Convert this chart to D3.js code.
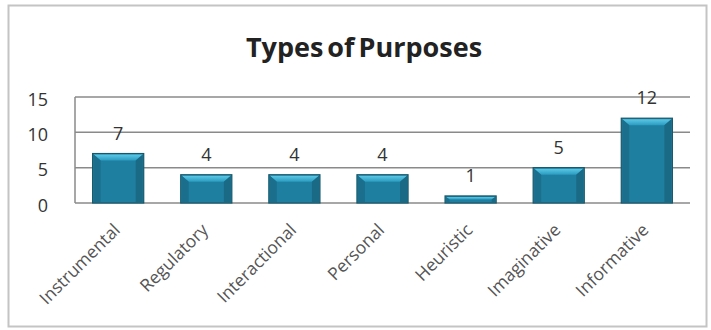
<!DOCTYPE html>
<html>
<head>
<meta charset="utf-8">
<script src="https://cdn.jsdelivr.net/npm/d3@7"></script>
<style>
  body { margin: 0; background: #fff; }
  svg { display: block; font-family: "Open Sans", "DejaVu Sans", sans-serif; }
</style>
</head>
<body>
<div id="chart"></div>
<script>
var categories = ["Instrumental", "Regulatory", "Interactional", "Personal", "Heuristic", "Imaginative", "Informative"];
var values = [7, 4, 4, 4, 1, 5, 12];
var yTicks = [0, 5, 10, 15];

var W = 711, H = 330;
var margin = { top: 97, right: 21, bottom: 127, left: 75 };
var width = W - margin.left - margin.right,
    height = H - margin.top - margin.bottom;

var svg = d3.select("#chart").append("svg")
    .attr("width", W)
    .attr("height", H);

// outer frame
svg.append("rect")
    .attr("x", 8.5).attr("y", 5.5)
    .attr("width", 698).attr("height", 321)
    .attr("fill", "#fff")
    .attr("stroke", "#c4c4c4")
    .attr("stroke-width", 2);

svg.append("text")
    .attr("x", 364).attr("y", 57)
    .attr("text-anchor", "middle")
    .style("font-size", "27px")
    .style("font-weight", "bold")
    .style("word-spacing", "-3px")
    .style("fill", "#222")
    .text("Types of Purposes");

var defs = svg.append("defs");
var grad = defs.append("linearGradient")
    .attr("id", "barGrad").attr("x1", 0).attr("x2", 0).attr("y1", 0).attr("y2", 1);
grad.append("stop").attr("offset", "0%").attr("stop-color", "#5cc8e6");
grad.append("stop").attr("offset", "100%").attr("stop-color", "#2a9cc0");

var g = svg.append("g")
    .attr("transform", "translate(" + margin.left + "," + margin.top + ")");

var x = d3.scaleBand().domain(categories).range([0, width]).paddingInner(0.42).paddingOuter(0.2);
var y = d3.scaleLinear().domain([0, 15]).range([height, 0]);

// gridlines
g.selectAll(".grid")
  .data(yTicks)
  .enter().append("line")
    .attr("x1", 0).attr("x2", width)
    .attr("y1", function(d) { return y(d); })
    .attr("y2", function(d) { return y(d); })
    .attr("stroke", "#8a8a8a")
    .attr("stroke-width", 1.5);

g.append("line")
    .attr("x1", 0).attr("x2", 0)
    .attr("y1", 0).attr("y2", height)
    .attr("stroke", "#8a8a8a")
    .attr("stroke-width", 1.5);

// y axis labels
var yAxis = d3.axisLeft(y).tickValues(yTicks).tickSize(0).tickPadding(27);
var ya = g.append("g").call(yAxis);
ya.select(".domain").remove();
ya.selectAll("text")
    .style("font-size", "18px")
    .style("fill", "#333")
    .style("font-family", "'Open Sans', sans-serif")
    .attr("dy", "0.45em");

// x axis labels, rotated
var xAxis = d3.axisBottom(x).tickSize(0).tickPadding(0);
var xa = g.append("g").attr("transform", "translate(0," + height + ")").call(xAxis);
xa.select(".domain").remove();
xa.selectAll("text")
    .style("font-size", "17.5px")
    .style("fill", "#555")
    .style("font-family", "'Open Sans', sans-serif")
    .attr("text-anchor", "end")
    .attr("dy", "0")
    .attr("transform", "translate(3,28) rotate(-45)");

// bars
var bars = g.selectAll(".bar")
  .data(values)
  .enter().append("g")
    .attr("class", "bar");

bars.append("rect")
    .attr("x", function(d, i) { return x(categories[i]); })
    .attr("y", function(d) { return y(d); })
    .attr("width", x.bandwidth())
    .attr("height", function(d) { return height - y(d); })
    .attr("fill", "#1f7fa0")
    .attr("stroke", "#17586b")
    .attr("stroke-width", 1.2);

// bevel top highlight
bars.append("path")
    .attr("d", function(d, i) {
      var x0 = x(categories[i]), w = x.bandwidth(), y0 = y(d);
      var b = Math.min(7, (height - y0) / 2);
      return "M" + (x0 + 1) + "," + (y0 + 1) + "L" + (x0 + w - 1) + "," + (y0 + 1)
        + "L" + (x0 + w - 1 - b) + "," + (y0 + b) + "L" + (x0 + 1 + b) + "," + (y0 + b) + "Z";
    })
    .attr("fill", "url(#barGrad)");

// side bevels
bars.append("path")
    .attr("d", function(d, i) {
      var x0 = x(categories[i]), w = x.bandwidth(), y0 = y(d);
      var b = Math.min(7, (height - y0) / 2);
      return "M" + (x0 + 1) + "," + (y0 + 1) + "L" + (x0 + 1 + b) + "," + (y0 + b)
        + "L" + (x0 + 1 + b) + "," + (height - 1) + "L" + (x0 + 1) + "," + (height - 1) + "Z";
    })
    .attr("fill", "#1b6f8c");
bars.append("path")
    .attr("d", function(d, i) {
      var x0 = x(categories[i]), w = x.bandwidth(), y0 = y(d);
      var b = Math.min(7, (height - y0) / 2);
      return "M" + (x0 + w - 1) + "," + (y0 + 1) + "L" + (x0 + w - 1 - b) + "," + (y0 + b)
        + "L" + (x0 + w - 1 - b) + "," + (height - 1) + "L" + (x0 + w - 1) + "," + (height - 1) + "Z";
    })
    .attr("fill", "#1a6a86");

// value labels
g.selectAll(".val")
  .data(values)
  .enter().append("text")
    .attr("x", function(d, i) { return x(categories[i]) + x.bandwidth() / 2; })
    .attr("y", function(d) { return y(d) - 14; })
    .attr("text-anchor", "middle")
    .style("font-size", "18px")
    .style("fill", "#333")
    .text(function(d) { return d; });
</script>
</body>
</html>
